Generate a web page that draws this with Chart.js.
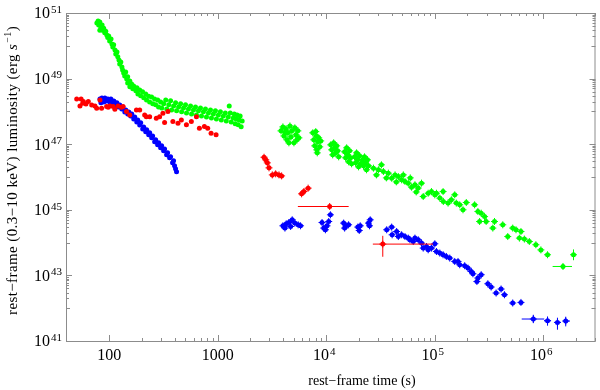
<!DOCTYPE html>
<html>
<head>
<meta charset="utf-8">
<script src="https://cdn.jsdelivr.net/npm/chart.js@4.4.1/dist/chart.umd.min.js"></script>
<style>
  html, body { margin: 0; padding: 0; background: #fff; }
  canvas { display: block; }
</style>
</head>
<body>
<canvas id="myChart" width="600" height="390"></canvas>
<script>
// [rest-frame time (s), luminosity (erg/s)]
const greenEarly = [[77,4.95e50],[79,5.7e50],[80,4.3e50],[82,5.3e50],[84,3.7e50],[82,3.0e50],[86,4.3e50],[87,3.0e50],[89,3.4e50],[91,2.5e50],[93,2.8e50],[95,2.15e50],[97,1.8e50],[99,2.0e50],[101,1.4e50],[104,1.6e50],[106,1.13e50],[108,9.2e49],[110,1.07e50],[113,7.5e49],[115,5.6e49],[118,6.5e49],[120,4.6e49],[123,3.7e49],[125,2.8e49],[128,3.2e49],[131,2.25e49],[133,1.84e49],[136,1.48e49],[139,1.19e49],[142,1.6e49],[145,9.7e48],[148,1.13e49],[148,7.4e48],[155,8.4e48],[155,5.6e48],[161,6.9e48],[165,4.9e48],[168,6.0e48],[176,4.25e48],[180,5.3e48],[184,3.4e48],[191,4.5e48],[195,3.0e48],[203,4.0e48],[208,2.6e48],[217,3.4e48],[221,2.24e48],[231,2.9e48],[236,1.95e48],[246,2.76e48],[252,1.7e48],[262,2.4e48],[268,1.6e48],[280,2.24e48],[285,1.37e48],[298,1.95e48],[305,1.28e48],[318,1.7e48],[332,2.24e48],[339,1.19e48],[354,1.6e48],[368,2.1e48],[376,1.1e48],[392,1.47e48],[409,1.82e48],[418,1.04e48],[436,1.37e48],[455,1.7e48],[465,9.7e47],[484,1.28e48],[505,1.6e48],[516,9.0e47],[538,1.19e48],[562,1.47e48],[574,8.4e47],[598,1.1e48],[624,1.37e48],[637,7.8e47],[665,1.04e48],[694,1.28e48],[709,7.3e47],[739,9.7e47],[771,1.19e48],[788,6.8e47],[822,9.0e47],[858,1.1e48],[876,6.3e47],[913,8.4e47],[953,1.04e48],[973,5.9e47],[1015,7.8e47],[1059,9.7e47],[1080,5.5e47],[1127,7.3e47],[1175,9.0e47],[1200,5.1e47],[1252,6.8e47],[1277,1.47e48],[1305,9.0e47],[1332,4.75e47],[1390,6.3e47],[1420,8.4e47],[1450,4.17e47],[1480,5.9e47],[1510,7.8e47],[1545,3.9e47],[1578,5.5e47],[1610,7.3e47],[1645,3.4e47],[1681,5.1e47]];

const greenLate = [[3830,2.55e47],[3990,3.37e47],[4080,1.79e47],[4165,2.22e47],[4255,2.93e47],[4345,1.36e47],[4440,2.22e47],[4530,1.10e47],[4630,3.61e47],[4730,1.67e47],[4830,2.55e47],[5040,1.10e47],[5140,3.15e47],[5250,1.93e47],[5365,1.36e47],[5480,2.55e47],[5600,1.56e47],
  [7520,2.22e47],[7680,1.36e47],[7840,8.9e46],[8010,2.42e47],[8100,1.79e47],[8180,6.73e46],[8270,5.45e46],[8360,1.18e47],[8530,1.56e47],[8720,8.3e46],[8900,1.26e47],
  [11000,9.55e46],[11230,6.73e46],[11470,4.74e46],[11710,1.10e47],[11960,7.74e46],[12220,5.45e46],[12480,8.9e46],[12740,6.27e46],[13020,4.12e46],
  [14780,5.85e46],[15100,3.84e46],[15420,7.74e46],[15750,4.74e46],[16080,2.90e46],[16430,6.27e46],[16780,3.84e46],[17130,2.52e46],
  [18260,4.12e46],[18650,2.70e46],[19050,5.45e46],[19450,3.34e46],[19860,2.04e46],[20290,4.42e46],[20720,2.52e46],
  [21610,3.34e46],[22070,2.19e46],[22540,4.12e46],[23020,2.70e46],[23510,1.66e46],[24010,3.34e46],[24530,2.19e46],
  [27250,1.86e46],[29030,1.16e46],[30290,1.66e46],[32270,2.35e46],[33650,1.47e46],[35840,9.4e45],[37390,1.31e46],[40100,9.2e45],[43080,1.16e46],[44280,7.1e45],[46190,1.03e46],[49520,8.2e45],[51330,1.16e46],[53200,7.3e45],[57030,6.5e45],[59500,9.4e45],[61150,4.9e45],[65700,5.8e45],[67520,3.5e45],[70440,4.6e45],[75530,6.5e45],[78300,2.54e45],[87000,3.2e45],[93270,3.6e45],[100200,2.86e45],[103700,3.2e45],[111400,2.27e45],[119400,3.6e45],[120000,1.79e45],[132700,1.6e45],[142300,2.02e45],[152900,2.86e45],[158100,1.6e45],[169900,1.42e45],[182100,1.0e45],[195300,1.67e45],[233100,1.42e45],[249900,8.9e44],[259100,4.4e44],[267900,7.9e44],[287900,6.2e44],[297800,4.4e44],[343000,2.77e44],[355500,4.4e44],[423600,3.49e44],[470800,1.53e44],[523000,2.77e44],[561000,2.46e44],[603000,1.37e44],[623000,2.18e44],[670000,1.28e44],[744000,1.08e44],[855000,8.6e43],[951000,6.0e43],[1095000,4.26e43],[1520000,1.87e43],[1900000,4.26e43]];

const redEarly = [[50.2,2.40e48],[53.8,1.47e48],[55.1,2.37e48],[57.0,1.77e48],[57.8,1.99e48],[61.1,1.69e48],[64.2,1.99e48],[69,1.58e48],[74,1.47e48],[76.7,1.25e48],[82.2,2.24e48],[85.1,1.25e48],[94.7,1.41e48],[97.9,1.34e48],[101.5,1.47e48],[108.8,1.41e48],[112.8,1.16e48],[120.9,1.47e48],[129.8,1.34e48],[134.4,1.41e48],[144.3,1.0e48],[154.8,7.8e47],[178.2,1.11e48],[191.1,1.11e48],[212.4,7.8e47],[220,6.9e47],[236.1,6.9e47],[271.8,6.2e47],[291.6,6.9e47],[312.8,8.8e47],[324,4.6e47],[347.7,1.0e48],[386.3,4.9e47],[430.5,4.35e47],[462.5,5.5e47],[514.8,3.9e47],[571.8,4.9e47],[636.8,6.9e47],[678,3.07e47],[754,3.47e47],[809,3.07e47],[869,2.17e47],[966,1.93e47]];

const redLate = [[2673,4.0e46],[2772,3.34e46],[2866,2.7e46],[2970,1.9e46],[3185,1.16e46],[3420,1.25e46],[3670,1.16e46],[3881,1.08e46],[5929,3.07e45],[6223,3.6e45],[6812,4.57e45],[10760,1.26e45],[33200,9.0e43]];

const blueEarly = [[82.2,2.40e48],[83.9,1.82e48],[85.7,2.58e48],[89.4,1.95e48],[91.3,2.58e48],[95.3,2.09e48],[97.3,2.40e48],[101.5,1.95e48],[103.7,2.40e48],[108.1,1.82e48],[110.4,2.09e48],[115.2,1.58e48],[117.7,1.82e48],[122.7,1.37e48],[125.3,1.58e48],[130.7,1.19e48],[133.5,1.37e48],[139.3,9.66e47],[142.3,1.11e48],[148.4,8.4e47],[151.6,9.66e47],[158.1,7.3e47],[161.5,8.4e47],[168.4,5.9e47],[172.0,6.8e47],[179.5,4.79e47],[183.3,5.51e47],[191.1,3.88e47],[195.2,4.47e47],[203.7,2.93e47],[208.0,3.37e47],[217.0,2.38e47],[221.6,2.74e47],[231.2,1.93e47],[236.1,2.22e47],[246.2,1.56e47],[251.5,1.79e47],[262.4,1.18e47],[268.0,1.36e47],[279.5,9.55e46],[285.5,1.10e47],[297.8,7.74e46],[304.2,8.9e46],[317.3,6.27e46],[324.0,7.2e46],[338,4.74e46],[345.2,5.45e46],[360.1,3.84e46],[367.8,4.12e46],[383.7,2.70e46],[391.9,3.11e46],[400.2,2.19e46],[408.8,1.77e46],[417.5,1.44e46]];

const blueLate = [[3990,3.25e44],[4165,2.77e44],[4280,3.74e44],[4530,4.10e44],[4700,3.10e44],[4860,4.95e44],[5140,3.93e44],[5510,3.49e44],[5800,3.25e44],[9150,4.10e44],[9490,2.77e44],[9830,2.46e44],[10170,3.25e44],[10540,4.40e44],[10930,7.03e44],[14470,3.93e44],[14780,2.77e44],[15190,3.25e44],[16080,3.49e44],[19560,2.97e44],[20150,2.34e44],[20580,3.25e44],[24530,3.93e44],[25050,3.25e44],[25420,4.95e44],[36080,2.46e44],[40100,2.97e44],[40500,1.73e44],[44560,2.18e44],[46190,1.53e44],[49520,1.73e44],[53200,1.53e44],[57030,1.37e44],[59120,1.22e44],[63390,1.08e44],[65700,1.37e44],[70440,1.22e44],[75530,9.66e43],[78300,6.8e43],[83940,7.6e43],[87000,6.04e43],[93270,6.8e43],[100200,9.2e43],[103700,5.36e43],[111400,4.79e43],[119400,4.26e43],[128000,3.78e43],[137500,3.37e43],[152900,2.66e43],[163900,2.66e43],[169900,2.11e43],[188800,1.97e43],[202400,1.67e43],[217000,1.32e43],[224900,1.12e43],[244700,6.5e42],[249900,8.3e42],[267900,1.05e43],[308600,5.56e42],[330900,4.42e42],[367800,2.90e42],[408700,3.84e42],[439100,2.57e42],[523000,1.44e42],[623000,1.50e42],[810000,4.68e41],[1095000,4.15e41],[1352000,3.69e41],[1611000,4.06e41]];

// wide error bars: [t, L, tLow, tHigh, LLow, LHigh]
const redBars = [[10760,1.26e45,5480,16100,1.1e45,1.45e45],[33200,9.0e43,26900,96600,3.7e43,1.61e44]];
const blueBars = [[810000,4.68e41,633000,1021000,3.5e41,6.3e41],[1095000,4.15e41,1020000,1180000,2.93e41,5.6e41],[1352000,3.69e41,1270000,1450000,2.21e41,5.13e41],[1611000,4.06e41,1520000,1760000,2.79e41,5.5e41]];
const greenBars = [[1520000,1.87e43,1220000,1840000,1.55e43,2.25e43],[1900000,4.26e43,1820000,1980000,2.9e43,6.2e43]];

const xTickValues = [100, 1000, 1e4, 1e5, 1e6];
const yTickValues = [1e41, 1e43, 1e45, 1e47, 1e49, 1e51];
const xRange = [40, 3.03e6];
const yRange = [1e41, 1e51];
const xTitle = 'rest−frame time (s)';
const yTitle = ['rest−frame (0.3−10 keV) luminosity (erg ', 's', '−1', ')'];

const GREEN = 'rgb(0,255,0)';
const RED = 'rgb(255,0,0)';
const BLUE = 'rgb(0,0,255)';
const serif = "'Liberation Serif', 'Times New Roman', serif";

function pts(arr) { return arr.map(p => ({ x: p[0], y: p[1] })); }
function dots(arr, color) {
  return { data: pts(arr), backgroundColor: color, borderWidth: 0, pointRadius: 2.5, pointHoverRadius: 2.5 };
}
function crosses(arr, color) {
  return { data: pts(arr), pointStyle: 'cross', borderColor: color, backgroundColor: color, borderWidth: 1, pointRadius: 3.5, pointHoverRadius: 3.5 };
}

// writes "10" with a raised exponent, or a plain number
function powLabel(ctx, v, x, y, align) {
  const e = Math.round(Math.log10(v));
  const big = '16px ' + serif, small = '11px ' + serif;
  ctx.textBaseline = 'alphabetic';
  if (e < 4 && align === 'center') {
    ctx.font = big; ctx.textAlign = 'center';
    ctx.fillText(String(v), x, y);
    return;
  }
  ctx.font = big;
  const wb = ctx.measureText('10').width;
  ctx.font = small;
  const we = ctx.measureText(String(e)).width + 1;
  const x0 = align === 'center' ? x - (wb + we) / 2 - 2 : x - wb - we;
  ctx.textAlign = 'left';
  ctx.font = big; ctx.fillText('10', x0, y);
  ctx.font = small; ctx.fillText(String(e), x0 + wb + 1, y - 5.5);
}

const axesPlugin = {
  id: 'axesPlugin',
  afterDatasetsDraw(chart) {
    const { ctx, scales: { x, y } } = chart;
    ctx.save();
    ctx.lineWidth = 1;
    [[redBars, RED], [blueBars, BLUE], [greenBars, GREEN]].forEach(([bars, color]) => {
      ctx.strokeStyle = color;
      bars.forEach(b => {
        const px = x.getPixelForValue(b[0]), py = y.getPixelForValue(b[1]);
        ctx.beginPath();
        ctx.moveTo(x.getPixelForValue(b[2]), py); ctx.lineTo(x.getPixelForValue(b[3]), py);
        ctx.moveTo(px, y.getPixelForValue(b[4])); ctx.lineTo(px, y.getPixelForValue(b[5]));
        ctx.stroke();
      });
    });
    ctx.restore();
  },
  afterDraw(chart) {
    const { ctx, chartArea: a, scales: { x, y } } = chart;
    ctx.save();
    ctx.strokeStyle = '#8c8c8c';
    ctx.lineWidth = 1;
    ctx.strokeRect(a.left + 0.5, a.top + 0.5, a.right - a.left - 1, a.bottom - a.top);
    ctx.beginPath();
    // x ticks, bottom and top
    for (let d = 2; d <= 6; d++) {
      for (let k = 1; k <= 9; k++) {
        const v = k * Math.pow(10, d);
        if (v >= xRange[1]) break;
        const px = Math.round(x.getPixelForValue(v)) + 0.5;
        const len = k === 1 ? 6 : 3;
        ctx.moveTo(px, a.bottom); ctx.lineTo(px, a.bottom - len);
        ctx.moveTo(px, a.top); ctx.lineTo(px, a.top + len);
      }
    }
    // y ticks, left and right
    for (let e = 41; e <= 51; e++) {
      const marks = e % 2 === 1 ? [[1, 6]] : [[1, 4], [2, 3], [3, 3], [4, 3], [5, 3], [6, 3], [7, 3], [8, 3], [9, 3]];
      marks.forEach(([k, len]) => {
        const py = Math.round(y.getPixelForValue(k * Math.pow(10, e))) + 0.5;
        ctx.moveTo(a.left, py); ctx.lineTo(a.left + len, py);
        ctx.moveTo(a.right, py); ctx.lineTo(a.right - len, py);
      });
    }
    ctx.stroke();
    ctx.fillStyle = '#000';
    xTickValues.forEach(v => powLabel(ctx, v, x.getPixelForValue(v), 360, 'center'));
    yTickValues.forEach(v => powLabel(ctx, v, 62, y.getPixelForValue(v) + 5.3, 'right'));

    // axis titles
    ctx.textBaseline = 'alphabetic';
    ctx.textAlign = 'center';
    ctx.font = '14px ' + serif;
    ctx.fillText(xTitle, 362, 385);

    ctx.save();
    ctx.translate(17, 315);
    ctx.rotate(-Math.PI / 2);
    ctx.textAlign = 'left';
    ctx.letterSpacing = '0.4px';
    const fonts = ['15px ' + serif, 'italic 15px ' + serif, '10px ' + serif, '15px ' + serif];
    const rise = [0, 0, -6, 0];
    let cx = 0;
    yTitle.forEach((s, i) => {
      ctx.font = fonts[i];
      ctx.fillText(s, cx, rise[i]);
      cx += ctx.measureText(s).width + (i === 1 ? 1 : 0);
    });
    ctx.restore();
    ctx.restore();
  }
};

const ctx = document.getElementById('myChart').getContext('2d');
const myChart = new Chart(ctx, {
  type: 'scatter',
  data: {
    datasets: [
      dots(redEarly, RED), dots(redLate, RED), crosses(redLate, RED),
      dots(blueEarly, BLUE), dots(blueLate, BLUE), crosses(blueLate, BLUE),
      dots(greenEarly, GREEN), dots(greenLate, GREEN), crosses(greenLate, GREEN)
    ]
  },
  options: {
    responsive: false,
    animation: false,
    layout: { padding: { top: 13, right: 2, left: 0, bottom: 0 } },
    plugins: { legend: { display: false }, tooltip: { enabled: false } },
    scales: {
      x: {
        type: 'logarithmic', min: xRange[0], max: xRange[1],
        grid: { display: false }, border: { display: false },
        ticks: { display: false },
        afterFit(s) { s.height = 49; }
      },
      y: {
        type: 'logarithmic', min: yRange[0], max: yRange[1],
        grid: { display: false }, border: { display: false },
        ticks: { display: false },
        afterFit(s) { s.width = 66; }
      }
    }
  },
  plugins: [axesPlugin]
});
</script>
</body>
</html>
